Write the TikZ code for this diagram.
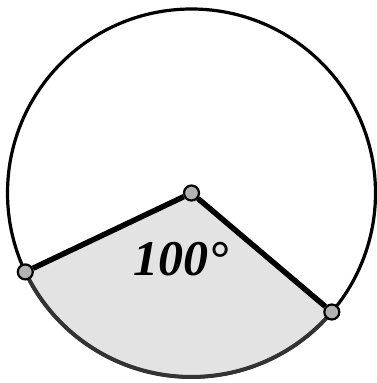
\documentclass[tikz,border=0pt]{standalone}
\usepackage{fontspec}
\setmainfont{Liberation Serif}
\usetikzlibrary{positioning}

\begin{document}
\begin{tikzpicture}[
x=1pt,
y=1pt,
dot/.style={
circle,
draw,
line width=2.2pt,
fill=gray!60,
inner sep=0pt,
minimum size=15pt
},
radius line/.style={
line width=5.5pt
},
rim/.style={
line width=3.2pt
}
]

\useasboundingbox (0,0) rectangle (377,383);

\coordinate (o) at (191.5,190);

% shaded sector
\fill[gray!22] (o) -- ++(205.4:184) arc[start angle=205.4, end angle=319.7, radius=184] -- cycle;

\draw[rim] (o) circle[radius=184];
\draw[line width=4pt, black!80] (o) ++(205.4:184) arc[start angle=205.4, end angle=319.7, radius=184];

\node[dot] (c) at (o) {};
\path (o) ++(205.4:184) node[dot] (a) {};
\path (o) ++(319.7:184) node[dot] (b) {};

\draw[radius line] (a) -- (c);
\draw[radius line] (c) -- (b);

\node (lbl) at (181,124) {\fontsize{50}{50}\selectfont\bfseries\itshape 100°};

\end{tikzpicture}
\end{document}
